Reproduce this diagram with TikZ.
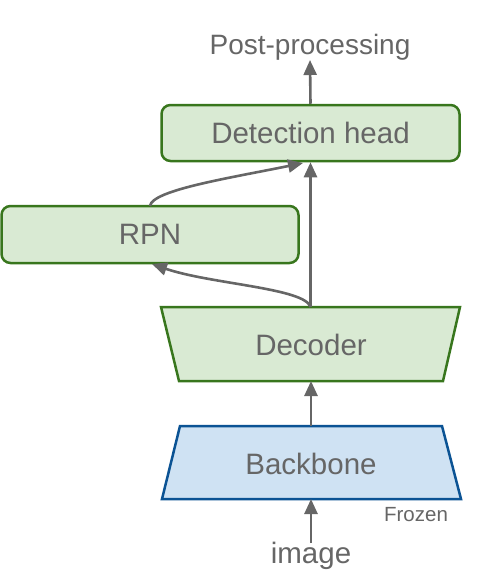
\documentclass[tikz,border=0pt]{standalone}
\usepackage{fontspec}
\setmainfont{Liberation Sans}
\usetikzlibrary{arrows.meta}
\definecolor{gfill}{HTML}{D9EAD3}
\definecolor{gline}{HTML}{38761D}
\definecolor{bfill}{HTML}{CFE2F3}
\definecolor{bline}{HTML}{0B5394}
\definecolor{txt}{HTML}{666666}
\definecolor{arr}{HTML}{666666}
\begin{document}
\begin{tikzpicture}[x=1pt,y=-1pt,
  every node/.style={text=txt,font=\fontsize{29.5}{32}\selectfont,inner sep=0pt},
  gbox/.style={draw=gline,fill=gfill,line width=2.5pt,rounded corners=9pt},
  gshape/.style={draw=gline,fill=gfill,line width=2.5pt,line join=miter},
  bshape/.style={draw=bline,fill=bfill,line width=2.5pt,line join=miter},
  conn/.style={draw=arr,line width=2.6pt,-{Triangle[length=15pt,width=13pt]}}]
\useasboundingbox (0,0) rectangle (498,584);
% trapezia
\draw[gshape] (161,307) -- (460,307) -- (443,381) -- (179,381) -- cycle;
\draw[bshape] (180,426) -- (442,426) -- (461,499) -- (162,499) -- cycle;
\coordinate (dectop) at (310.5,307);
\coordinate (decbot) at (311,381);
\coordinate (bbtop) at (311,426);
\coordinate (bbbot) at (311,499);
\node[gbox,minimum width=298pt,minimum height=56pt] (det) at (310.5,133) {Detection head};
\node[gbox,minimum width=297pt,minimum height=57pt] (rpn) at (150,234.5) {RPN};
\node (dec) at (311,345) {Decoder};
\node (bb) at (311,464) {Backbone};
\node[font=\fontsize{28}{30}\selectfont] (post) at (310,47) {Post-processing};
\node (img) at (311,556) {image};
\node[font=\fontsize{20.5}{22}\selectfont] (frz) at (416,515) {Frozen};
\coordinate (imgtop) at (311,543);
\coordinate (rpnin) at (152,264);
\coordinate (rpnout) at (150,206);
\coordinate (detin) at (303,163);
\coordinate (posbot) at (310,60);
\draw[conn] (imgtop) -- (bbbot);
\draw[conn] (bbtop) -- (decbot);
\draw[conn] (dectop) -- (det.south);
\draw[conn] (dectop) .. controls (305,288) and (210,284) .. (rpnin);
\draw[conn] (rpnout) .. controls (152,190) and (230,178) .. (detin);
\draw[conn] (det.north) -- (posbot);
\end{tikzpicture}
\end{document}
